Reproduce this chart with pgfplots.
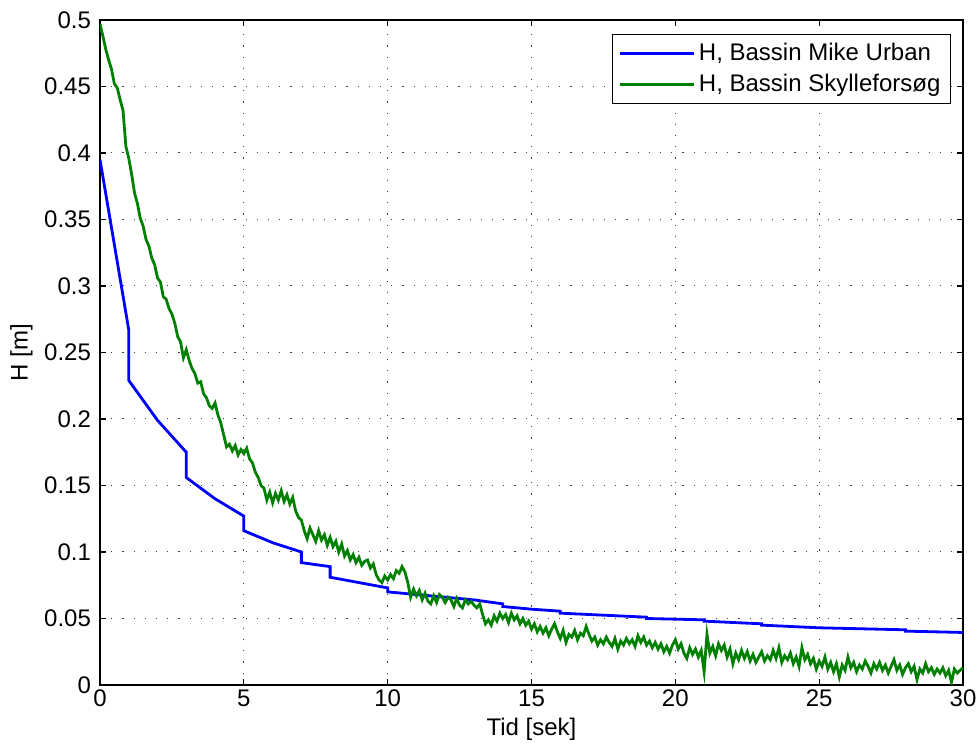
\documentclass[border=0pt]{standalone}
\usepackage{fontspec}
\setmainfont{Liberation Sans}
\usepackage{pgfplots}
\pgfplotsset{compat=1.18}
\usetikzlibrary{calc}
\definecolor{mublue}{RGB}{0,0,255}
\definecolor{skgreen}{RGB}{0,128,0}

% simulated basin level (Mike Urban)
\pgfplotstableread{
t h
0 0.395
1 0.267
1 0.229
2 0.199
3 0.175
3 0.156
4 0.140
5 0.127
5 0.116
6 0.107
7 0.100
7 0.092
8 0.089
8 0.081
9 0.077
10 0.073
10 0.070
11 0.068
12 0.066
13 0.064
14 0.061
14 0.059
15 0.057
16 0.0555
16 0.054
17 0.053
18 0.052
19 0.051
19 0.050
20 0.0495
21 0.049
21 0.048
22 0.047
23 0.046
23 0.045
24 0.044
25 0.043
26 0.0425
27 0.042
28 0.0415
28 0.0405
29 0.040
30 0.0395
}\mikeurban

% measured basin level (flushing test)
\pgfplotstableread{
t h
0.0 0.497
0.1 0.488
0.2 0.478
0.3 0.470
0.4 0.463
0.5 0.452
0.6 0.449
0.7 0.440
0.8 0.432
0.9 0.405
1.0 0.396
1.1 0.384
1.2 0.370
1.3 0.362
1.4 0.351
1.5 0.345
1.6 0.335
1.7 0.330
1.8 0.321
1.9 0.316
2.0 0.306
2.1 0.303
2.2 0.292
2.3 0.290
2.4 0.283
2.5 0.279
2.6 0.272
2.7 0.262
2.8 0.258
2.9 0.246
3.0 0.252
3.1 0.244
3.2 0.238
3.3 0.234
3.4 0.227
3.5 0.228
3.6 0.219
3.7 0.216
3.8 0.210
3.9 0.208
4.0 0.212
4.1 0.203
4.2 0.197
4.3 0.188
4.4 0.179
4.5 0.181
4.6 0.176
4.7 0.180
4.8 0.173
4.9 0.177
5.0 0.174
5.1 0.178
5.2 0.170
5.3 0.167
5.4 0.160
5.5 0.156
5.6 0.150
5.7 0.148
5.8 0.139
5.9 0.145
6.0 0.137
6.1 0.144
6.2 0.139
6.3 0.146
6.4 0.138
6.5 0.143
6.6 0.136
6.7 0.141
6.8 0.131
6.9 0.126
7.0 0.124
7.1 0.116
7.2 0.110
7.3 0.118
7.4 0.113
7.5 0.108
7.6 0.116
7.7 0.109
7.8 0.113
7.9 0.105
8.0 0.111
8.1 0.104
8.2 0.108
8.3 0.100
8.4 0.106
8.5 0.097
8.6 0.101
8.7 0.094
8.8 0.098
8.9 0.092
9.0 0.096
9.1 0.090
9.2 0.093
9.3 0.094
9.4 0.088
9.5 0.091
9.6 0.083
9.7 0.079
9.8 0.077
9.9 0.082
10.0 0.079
10.1 0.083
10.2 0.080
10.3 0.086
10.4 0.084
10.5 0.089
10.6 0.085
10.7 0.077
10.8 0.066
10.9 0.072
11.0 0.067
11.1 0.071
11.2 0.064
11.3 0.069
11.4 0.063
11.5 0.061
11.6 0.067
11.7 0.062
11.8 0.068
11.9 0.066
12.0 0.062
12.1 0.066
12.2 0.064
12.3 0.059
12.4 0.065
12.5 0.060
12.6 0.058
12.7 0.064
12.8 0.061
12.9 0.063
13.0 0.060
13.1 0.058
13.2 0.061
13.3 0.053
13.4 0.046
13.5 0.049
13.6 0.045
13.7 0.052
13.8 0.048
13.9 0.054
14.0 0.050
14.1 0.053
14.2 0.047
14.3 0.054
14.4 0.049
14.5 0.052
14.6 0.046
14.7 0.050
14.8 0.045
14.9 0.048
15.0 0.042
15.1 0.046
15.2 0.040
15.3 0.044
15.4 0.039
15.5 0.043
15.6 0.037
15.7 0.042
15.8 0.046
15.9 0.040
16.0 0.035
16.1 0.041
16.2 0.032
16.3 0.038
16.4 0.036
16.5 0.041
16.6 0.034
16.7 0.039
16.8 0.037
16.9 0.044
17.0 0.038
17.1 0.033
17.2 0.036
17.3 0.030
17.4 0.034
17.5 0.031
17.6 0.036
17.7 0.032
17.8 0.029
17.9 0.035
18.0 0.027
18.1 0.033
18.2 0.030
18.3 0.035
18.4 0.031
18.5 0.034
18.6 0.029
18.7 0.037
18.8 0.032
18.9 0.036
19.0 0.030
19.1 0.033
19.2 0.028
19.3 0.032
19.4 0.027
19.5 0.031
19.6 0.025
19.7 0.029
19.8 0.024
19.9 0.030
20.0 0.034
20.1 0.027
20.2 0.031
20.3 0.024
20.4 0.020
20.5 0.028
20.6 0.023
20.7 0.027
20.8 0.021
20.9 0.026
21.0 0.010
21.1 0.038
21.2 0.024
21.3 0.029
21.4 0.022
21.5 0.031
21.6 0.026
21.7 0.030
21.8 0.021
21.9 0.027
22.0 0.016
22.1 0.024
22.2 0.019
22.3 0.026
22.4 0.020
22.5 0.025
22.6 0.018
22.7 0.023
22.8 0.017
22.9 0.021
23.0 0.025
23.1 0.018
23.2 0.022
23.3 0.019
23.4 0.026
23.5 0.020
23.6 0.028
23.7 0.017
23.8 0.022
23.9 0.019
24.0 0.024
24.1 0.016
24.2 0.021
24.3 0.014
24.4 0.028
24.5 0.019
24.6 0.023
24.7 0.016
24.8 0.020
24.9 0.012
25.0 0.018
25.1 0.014
25.2 0.021
25.3 0.012
25.4 0.017
25.5 0.010
25.6 0.016
25.7 0.006
25.8 0.015
25.9 0.011
26.0 0.021
26.1 0.013
26.2 0.017
26.3 0.010
26.4 0.015
26.5 0.012
26.6 0.018
26.7 0.014
26.8 0.009
26.9 0.016
27.0 0.012
27.1 0.017
27.2 0.011
27.3 0.015
27.4 0.009
27.5 0.014
27.6 0.019
27.7 0.011
27.8 0.015
27.9 0.008
28.0 0.013
28.1 0.016
28.2 0.010
28.3 0.014
28.4 0.004
28.5 0.012
28.6 0.009
28.7 0.016
28.8 0.010
28.9 0.013
29.0 0.008
29.1 0.012
29.2 0.009
29.3 0.013
29.4 0.007
29.5 0.011
29.6 0.002
29.7 0.012
29.8 0.009
29.9 0.011
30.0 0.013
}\skylle

\begin{document}
\begin{tikzpicture}[font=\fontsize{12}{14}\selectfont]
\begin{axis}[
  scale only axis, width=431.5pt, height=332.5pt,
  xmin=0, xmax=30, ymin=0, ymax=0.5,
  xtick={0,5,...,30},
  ytick={0,0.05,0.1,0.15,0.2,0.25,0.3,0.35,0.4,0.45,0.5},
  yticklabels={0,0.05,0.1,0.15,0.2,0.25,0.3,0.35,0.4,0.45,0.5},
  /pgf/number format/assume math mode=true,
  tick align=inside, major tick length=3pt,
  axis line style={line width=0.8pt},
  every tick/.style={black, line width=0.6pt},
  xticklabel style={yshift=1pt},
  yticklabel style={xshift=-1pt},
  grid=major,
  grid style={black!75, line width=0.5pt, dash pattern=on 0.6pt off 5pt},
  xlabel={Tid [sek]}, ylabel={H [m]},
  xlabel style={yshift=1.5pt},
  ylabel style={yshift=-1pt},
  legend cell align=left,
  legend style={at={(1,1)}, anchor=north east, xshift=-6pt, yshift=-7pt,
    draw=black, line width=0.6pt, inner xsep=3pt, inner ysep=2.5pt, row sep=1pt,
    font=\fontsize{12}{14}\selectfont},
  legend image code/.code={\draw[#1] (0pt,0pt) -- (37pt,0pt);},
]
\addplot[mublue, line width=1.4pt] table[x=t, y=h] {\mikeurban};
\addlegendentry{H, Bassin Mike Urban}
\addplot[skgreen, line width=1.4pt] table[x=t, y=h] {\skylle};
\addlegendentry{H, Bassin Skylleforsøg}
\coordinate (sw) at (rel axis cs:0,0);
\coordinate (ne) at (rel axis cs:1,1);
\end{axis}
\pgfresetboundingbox
\path ($(sw)+(-50pt,-31pt)$) rectangle ($(ne)+(7.5pt,10pt)$);
\end{tikzpicture}
\end{document}
